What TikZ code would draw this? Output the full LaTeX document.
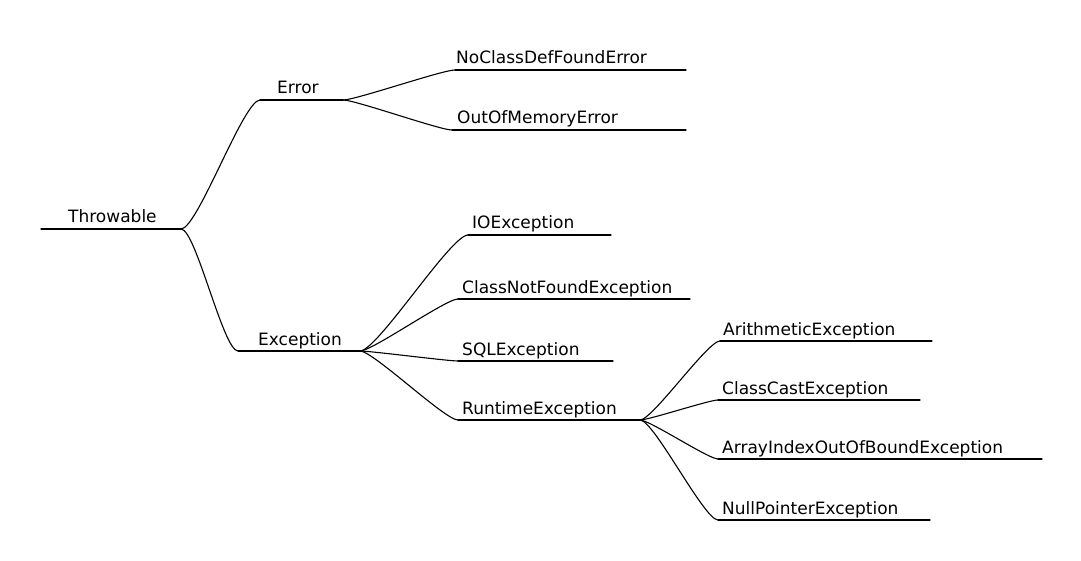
\documentclass[tikz,border=0pt]{standalone}
\usepackage{fontspec}
\setmainfont{DejaVu Sans}
\tikzset{>=latex}
\tikzset{
  branch/.style={line width=1.1pt,black,line cap=round},
  twig/.style={out=0,in=180,looseness=0.28},
  topic text/.style={anchor=base west,inner sep=0,font=\fontsize{17}{20}\selectfont},
}
% name, left end, right end, height of line, start of text, text
\newcommand\topic[6]{
  \coordinate (#1-l) at (#2,#4);
  \coordinate (#1-r) at (#3,#4);
  \draw[branch] (#1-l) -- (#1-r);
  \node[topic text] (#1) at (#5,#4-6) {#6};
}

\begin{document}
\begin{tikzpicture}[x=1pt,y=-1pt]
  \useasboundingbox (0,0) rectangle (1081,561);
  
  % TOPICS
  \topic{throw}{41}{181}{229}{68}{Throwable}
  \topic{err}{260}{343}{100}{277}{Error}
  \topic{exc}{238}{360}{351}{258}{Exception}
  \topic{ncdf}{455}{686}{70}{456}{NoClassDefFoundError}
  \topic{oom}{452}{686}{130}{457}{OutOfMemoryError}
  \topic{io}{468}{611}{235}{472}{IOException}
  \topic{cnf}{458}{690}{299}{462}{ClassNotFoundException}
  \topic{sql}{458}{613}{361}{462}{SQLException}
  \topic{rt}{458}{640}{420}{462}{RuntimeException}
  \topic{ari}{720}{932}{341}{723}{ArithmeticException}
  \topic{cce}{718}{920}{400}{722}{ClassCastException}
  \topic{aio}{718}{1042}{459}{722}{ArrayIndexOutOfBoundException}
  \topic{npe}{718}{930}{520}{722}{NullPointerException}
  
  % BRANCHES
  \foreach \a/\b in {throw/err,throw/exc,err/ncdf,err/oom,exc/io,exc/cnf,exc/sql,exc/rt,
                     rt/ari,rt/cce,rt/aio,rt/npe}{
    \draw[branch] (\a-r) to[twig] (\b-l);
  }
  
\end{tikzpicture}
\end{document}
